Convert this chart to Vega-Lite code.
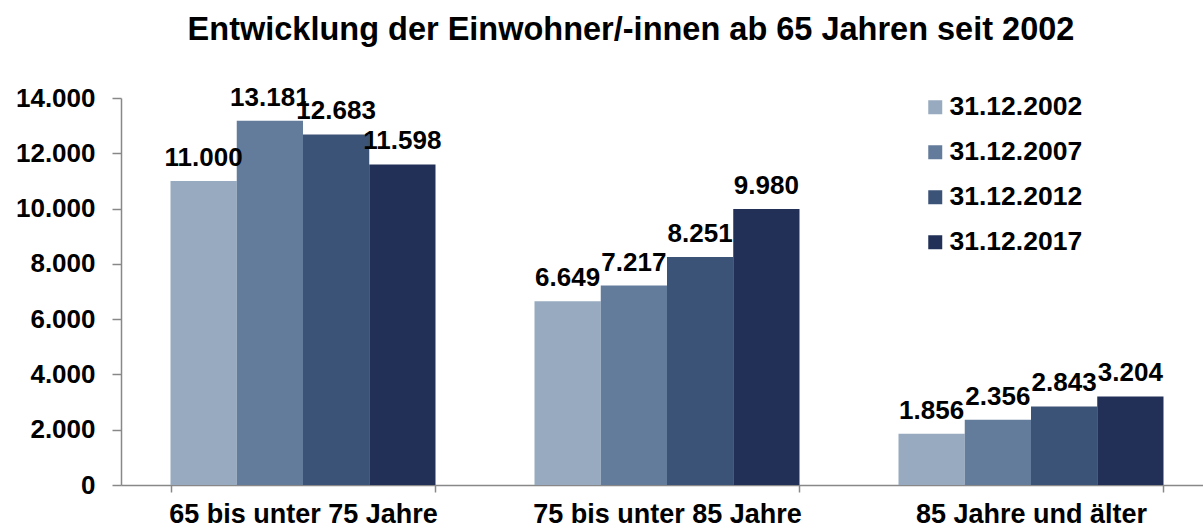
{
  "$schema": "https://vega.github.io/schema/vega-lite/v6.json",
  "width": 1082,
  "height": 387,
  "autosize": {"type": "none"},
  "padding": {"left": 121, "top": 98, "right": 0, "bottom": 43},
  "background": "white",
  "config": {
    "locale": {"number": {"decimal": ",", "thousands": ".", "grouping": [3], "currency": ["", " €"]}},
    "font": "Liberation Sans",
    "view": {"stroke": null}
  },
  "title": {
    "text": "Entwicklung der Einwohner/-innen ab 65 Jahren seit 2002",
    "fontSize": 32.5,
    "fontWeight": "bold",
    "font": "Liberation Sans",
    "color": "black",
    "anchor": "middle",
    "baseline": "alphabetic",
    "offset": 12,
    "dx": -31
  },
  "data": {
    "values": [
      {"gruppe": "65 bis unter 75 Jahre", "stichtag": "31.12.2002", "wert": 11000},
      {"gruppe": "65 bis unter 75 Jahre", "stichtag": "31.12.2007", "wert": 13181},
      {"gruppe": "65 bis unter 75 Jahre", "stichtag": "31.12.2012", "wert": 12683},
      {"gruppe": "65 bis unter 75 Jahre", "stichtag": "31.12.2017", "wert": 11598},
      {"gruppe": "75 bis unter 85 Jahre", "stichtag": "31.12.2002", "wert": 6649},
      {"gruppe": "75 bis unter 85 Jahre", "stichtag": "31.12.2007", "wert": 7217},
      {"gruppe": "75 bis unter 85 Jahre", "stichtag": "31.12.2012", "wert": 8251},
      {"gruppe": "75 bis unter 85 Jahre", "stichtag": "31.12.2017", "wert": 9980},
      {"gruppe": "85 Jahre und älter", "stichtag": "31.12.2002", "wert": 1856},
      {"gruppe": "85 Jahre und älter", "stichtag": "31.12.2007", "wert": 2356},
      {"gruppe": "85 Jahre und älter", "stichtag": "31.12.2012", "wert": 2843},
      {"gruppe": "85 Jahre und älter", "stichtag": "31.12.2017", "wert": 3204}
    ]
  },
  "encoding": {
    "x": {
      "field": "gruppe",
      "type": "nominal",
      "sort": ["65 bis unter 75 Jahre", "75 bis unter 85 Jahre", "85 Jahre und älter"],
      "scale": {"range": [0, 1092], "paddingInner": 0.272, "paddingOuter": 0.136},
      "axis": {
        "title": null,
        "labelAngle": 0,
        "labelLimit": 500,
        "tickBand": "extent",
        "tickSize": 7,
        "tickColor": "#888888",
        "tickWidth": 1.5,
        "domainColor": "#888888",
        "domainWidth": 1.5,
        "labelFontSize": 27,
        "labelFontWeight": "bold",
        "labelColor": "black",
        "labelPadding": 9
      }
    },
    "xOffset": {
      "field": "stichtag",
      "type": "nominal",
      "sort": ["31.12.2002", "31.12.2007", "31.12.2012", "31.12.2017"],
      "scale": {"paddingInner": 0, "paddingOuter": 0}
    },
    "y": {
      "field": "wert",
      "type": "quantitative",
      "scale": {"domain": [0, 14000]},
      "axis": {
        "title": null,
        "values": [0, 2000, 4000, 6000, 8000, 10000, 12000, 14000],
        "format": ",d",
        "grid": false,
        "domainColor": "#888888",
        "domainWidth": 1.5,
        "tickColor": "#888888",
        "tickWidth": 1.5,
        "tickSize": 9,
        "labelPadding": 17,
        "labelFontSize": 26,
        "labelFontWeight": "bold",
        "labelColor": "black"
      }
    }
  },
  "layer": [
    {
      "mark": {"type": "bar"},
      "encoding": {
        "color": {
          "field": "stichtag",
          "type": "nominal",
          "scale": {
            "domain": ["31.12.2002", "31.12.2007", "31.12.2012", "31.12.2017"],
            "range": ["#97AABF", "#647C9C", "#3C5378", "#223058"]
          },
          "legend": {
            "title": null,
            "orient": "none",
            "legendX": 801,
            "legendY": -4,
            "symbolType": "square",
            "symbolSize": 196,
            "symbolStrokeWidth": 0,
            "symbolOpacity": 1,
            "labelFontSize": 26.5,
            "labelFontWeight": "bold",
            "labelColor": "black",
            "labelOffset": 1,
            "rowPadding": 18
          }
        }
      }
    },
    {
      "mark": {"type": "text", "baseline": "alphabetic", "dy": -15, "fontSize": 26, "fontWeight": "bold", "color": "black"},
      "encoding": {
        "text": {"field": "wert", "type": "quantitative", "format": ",d"}
      }
    }
  ]
}
